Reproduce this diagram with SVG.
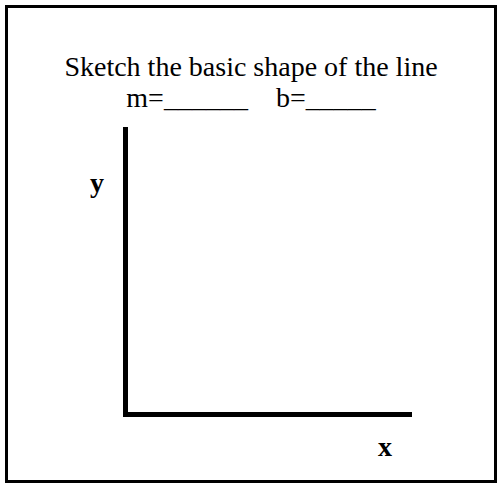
<svg xmlns="http://www.w3.org/2000/svg" width="502" height="487" viewBox="0 0 502 487">
<style>
.t{font-family:"Liberation Serif","Times New Roman",serif;font-size:28px;fill:#000}
.b{font-weight:bold}
.ax{stroke:#000;stroke-width:5;fill:none}
</style>
<rect x="0" y="0" width="502" height="487" fill="#fff"/>
<rect x="6.5" y="6.5" width="489" height="475" fill="none" stroke="#000" stroke-width="3"/>
<g id="title">
<text class="t" x="251" y="76" text-anchor="middle">Sketch the basic shape of the line</text>
<text class="t" x="251" y="107" text-anchor="middle" xml:space="preserve">m=______    b=_____</text>
</g>
<g id="axes">
<line class="ax" x1="125.5" y1="127" x2="125.5" y2="417"/>
<line class="ax" x1="123" y1="414.5" x2="412" y2="414.5"/>
</g>
<g id="labels">
<text class="t b" x="90" y="192">y</text>
<text class="t b" x="378" y="456">x</text>
</g>
</svg>
